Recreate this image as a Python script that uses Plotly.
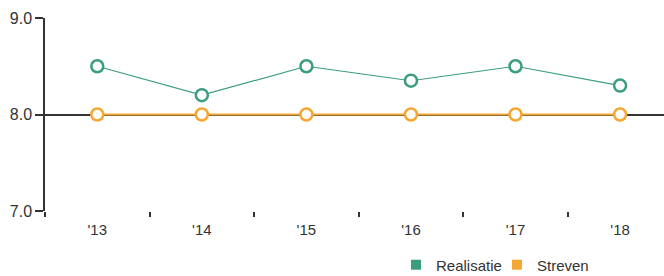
import plotly.graph_objects as go

years = ["'13", "'14", "'15", "'16", "'17", "'18"]
realisatie = [8.5, 8.2, 8.5, 8.35, 8.5, 8.3]
streven = [8.0, 8.0, 8.0, 8.0, 8.0, 8.0]

green = "#3a9d7f"
orange = "#f5a733"

fig = go.Figure()
fig.add_trace(go.Scatter(
    x=years, y=realisatie, name="Realisatie", mode="lines+markers",
    line=dict(color=green, width=1.2),
    marker=dict(symbol="circle", size=12, color="white", line=dict(color=green, width=2.5)),
))
fig.add_trace(go.Scatter(
    x=years, y=streven, name="Streven", mode="lines+markers",
    line=dict(color=orange, width=2),
    marker=dict(symbol="circle", size=12, color="white", line=dict(color=orange, width=2.5)),
))
fig.update_traces(showlegend=False)
fig.add_trace(go.Scatter(x=[None], y=[None], name="Realisatie", mode="markers", legend="legend",
                         marker=dict(symbol="square", size=10, color=green)))
fig.add_trace(go.Scatter(x=[None], y=[None], name="Streven", mode="markers", legend="legend2",
                         marker=dict(symbol="square", size=10, color=orange)))

leg_common = dict(orientation="h", xref="container", yref="container",
                  xanchor="left", y=0.04, yanchor="middle",
                  font=dict(size=15, color="#333333"), itemwidth=30,
                  bgcolor="rgba(0,0,0,0)")

fig.update_layout(
    width=664, height=276,
    margin=dict(l=45, r=0, t=18, b=65, autoexpand=False),
    paper_bgcolor="white", plot_bgcolor="white",
    font=dict(family="Liberation Sans, Arial, sans-serif", size=14, color="#333333"),
    showlegend=True,
    legend=dict(x=396 / 664, **leg_common),
    legend2=dict(x=497 / 664, **leg_common),
    xaxis=dict(
        type="category", range=[-0.5, 5.42],
        showgrid=False, zeroline=False, showline=False,
        ticks="outside", tickson="boundaries", ticklen=5, tickcolor="#333333", tickwidth=1.5,
        tickfont=dict(size=15, color="#333333"), ticklabelstandoff=8,
    ),
    yaxis=dict(
        range=[7.0, 9.0], tickvals=[7.0, 8.0, 9.0], ticktext=["7.0", "8.0", "9.0"],
        showgrid=True, gridcolor="#333333", gridwidth=1.5,
        zeroline=False, showline=True, linecolor="#333333", linewidth=1.5,
        ticks="outside", ticklen=8, tickcolor="#333333", tickwidth=1.5,
        tickfont=dict(size=16, color="#333333"),
    ),
)

fig.write_html("out.html", config={"displayModeBar": False},
               post_script="document.body.style.margin='0';")
